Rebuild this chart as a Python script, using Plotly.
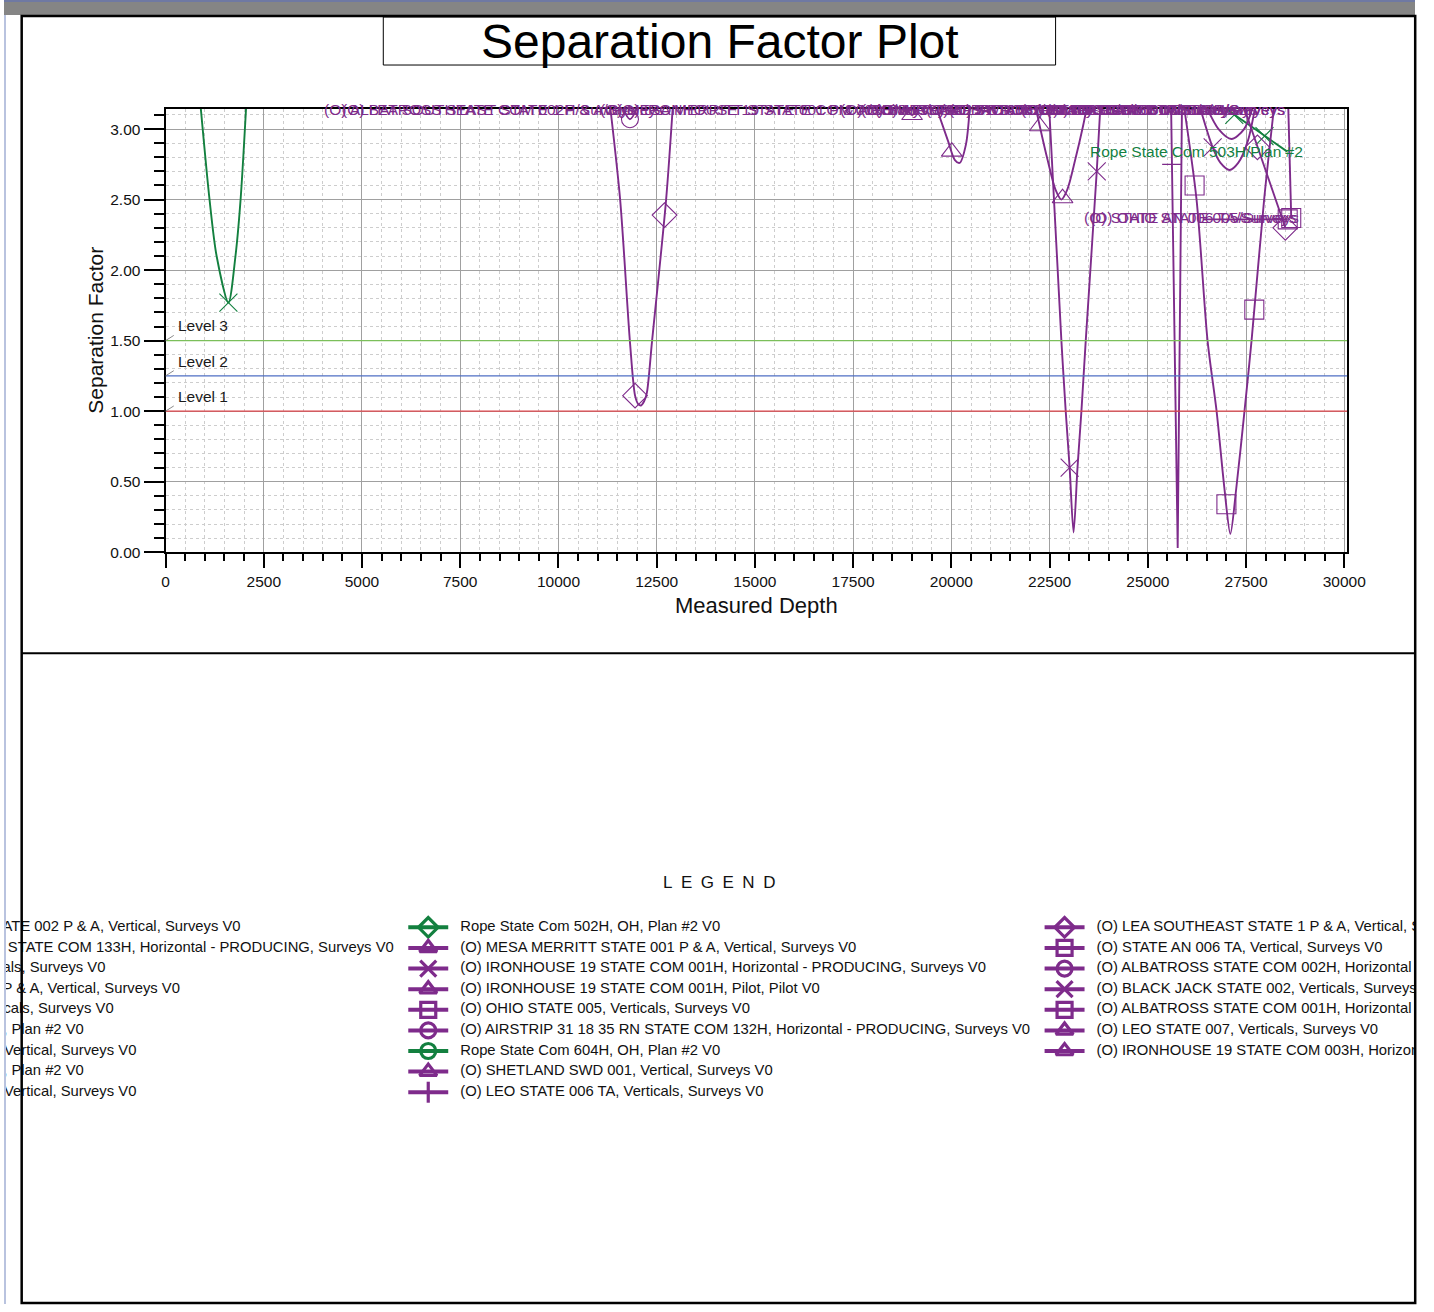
import plotly.graph_objects as go

W, H = 1434, 1312
PURPLE = "#7e2b8b"
GREEN = "#13803f"
FONT = "Liberation Sans, Arial, sans-serif"

# ---------------- threshold levels ----------------
level_names = ["Level 1", "Level 2", "Level 3"]
level_values = [1.00, 1.25, 1.50]
level_colors = ["#e0474c", "#4f6fc4", "#7bbf5a"]

# ---------------- separation factor vs measured depth ----------------
rope503_md = [880, 1120, 1300, 1600, 1780, 1910, 2060, None, 26700, 28550]
rope503_sf = [3.20, 2.50, 2.10, 1.77, 2.10, 2.50, 3.20, None, 3.20, 2.84]
rope503_mk_md = [1600, 27200, 27970]
rope503_mk_sf = [1.77, 3.10, 2.95]

lea1_md = [11300, 11570, 11820, 11950, 12030, 12100, 12180, 12250, 12380, 12740, 12920, None, 27390, 28500]
lea1_sf = [3.20, 2.50, 1.49, 1.11, 1.05, 1.04, 1.07, 1.13, 1.49, 2.50, 3.20, None, 3.20, 2.30]
lea1_mk_md = [11950, 12700, 27790, 28500]
lea1_mk_sf = [1.11, 2.39, 2.87, 2.30]

airstrip_md = [11560, 11820, 12080]
airstrip_sf = [3.20, 3.07, 3.20]
airstrip_mk_md = [11820]
airstrip_mk_sf = [3.07]

shetland_md = [18750, 19000, 19250]
shetland_sf = [3.20, 3.10, 3.20]
shetland_mk_md = [19000]
shetland_mk_sf = [3.10]

mesa_md = [19560, 19910, 20090, 20210, 20370, 20480]
mesa_sf = [3.20, 2.92, 2.78, 2.76, 2.89, 3.20]
mesa_mk_md = [20010]
mesa_mk_sf = [2.84]

pilot_md = [22110, 22250, 22450, 22650, 22800, 22950, 23150, 23350, 23480]
pilot_sf = [3.20, 3.02, 2.78, 2.57, 2.50, 2.57, 2.78, 3.02, 3.20]
pilot_mk_md = [22250, 22830]
pilot_mk_sf = [3.02, 2.51]

ih001_md = [22480, 22800, 22910, 23010, 23110, 23210, 23310, 23420, 23700, 23800]
ih001_sf = [3.20, 1.50, 1.00, 0.60, 0.14, 0.60, 1.00, 1.50, 2.70, 3.20]
ih001_mk_md = [23010, 23700]
ih001_mk_sf = [0.60, 2.70]

leo006_md = [25590, 25760, 25870]
leo006_sf = [3.20, 0.03, 3.20]
leo006_mk_md = [25614]
leo006_mk_sf = [2.75]

ohio_md = [25900, 26240, 26520, 26750, 26950, 27100, 27250, 27460, 27640, 27960, 28230, None, 28570, 28650]
ohio_sf = [3.20, 2.50, 1.50, 1.00, 0.45, 0.13, 0.45, 1.00, 1.50, 2.50, 3.20, None, 3.20, 2.37]
ohio_mk_md = [26190, 27000, 27710, 28650]
ohio_mk_sf = [2.60, 0.34, 1.72, 2.37]

statean_md = [26400, 28560]
statean_sf = [2.36, 2.36]
statean_mk_md = [28560]
statean_mk_sf = [2.36]

blackjack_md = [26280, 26650, 26850, 27080, 27300, 27550, 27760]
blackjack_sf = [3.20, 2.87, 2.76, 2.71, 2.76, 2.92, 3.20]
blackjack_mk_md = [26650]
blackjack_mk_sf = [2.87]

alb002_md = [26420, 26800, 27130, 27450, 27720]
alb002_sf = [3.20, 3.00, 2.93, 3.00, 3.20]

# ---------------- legend entries ----------------
legend1_names = [
    "(O) MESA MERRITT 19 STATE 002 P & A, Vertical, Surveys V0",
    "(O) AIRSTRIP 31 18 35 RN STATE COM 133H, Horizontal - PRODUCING, Surveys V0",
    "(O) LEO STATE 004, Verticals, Surveys V0",
    "(O) SHETLAND STATE 01 P & A, Vertical, Surveys V0",
    "(O) OHIO STATE 004, Verticals, Surveys V0",
    "Rope State Com 503H, OH, Plan #2 V0",
    "(O) SHETLAND SWD 002, Vertical, Surveys V0",
    "Rope State Com 603H, OH, Plan #2 V0",
    "(O) SHETLAND SWD 003, Vertical, Surveys V0",
]
legend1_symbols = ["triangle-up", "circle", "triangle-up", "diamond", "square", "x-thin", "triangle-up", "circle", "triangle-up"]
legend1_colors = [PURPLE, PURPLE, PURPLE, PURPLE, PURPLE, GREEN, PURPLE, GREEN, PURPLE]

legend2_names = [
    "Rope State Com 502H, OH, Plan #2 V0",
    "(O) MESA MERRITT STATE 001 P & A, Vertical, Surveys V0",
    "(O) IRONHOUSE 19 STATE COM 001H, Horizontal - PRODUCING, Surveys V0",
    "(O) IRONHOUSE 19 STATE COM 001H, Pilot, Pilot V0",
    "(O) OHIO STATE 005, Verticals, Surveys V0",
    "(O) AIRSTRIP 31 18 35 RN STATE COM 132H, Horizontal - PRODUCING, Surveys V0",
    "Rope State Com 604H, OH, Plan #2 V0",
    "(O) SHETLAND SWD 001, Vertical, Surveys V0",
    "(O) LEO STATE 006 TA, Verticals, Surveys V0",
]
legend2_symbols = ["diamond", "triangle-up", "x-thin", "triangle-up", "square", "circle", "circle", "triangle-up", "line-ns"]
legend2_colors = [GREEN, PURPLE, PURPLE, PURPLE, PURPLE, PURPLE, GREEN, PURPLE, PURPLE]

legend3_names = [
    "(O) LEA SOUTHEAST STATE 1 P & A, Vertical, Surveys V0",
    "(O) STATE AN 006 TA, Vertical, Surveys V0",
    "(O) ALBATROSS STATE COM 002H, Horizontal - PRODUCING, Surveys V0",
    "(O) BLACK JACK STATE 002, Verticals, Surveys V0",
    "(O) ALBATROSS STATE COM 001H, Horizontal - PRODUCING, Surveys V0",
    "(O) LEO STATE 007, Verticals, Surveys V0",
    "(O) IRONHOUSE 19 STATE COM 003H, Horizontal - PRODUCING, Surveys V0",
]
legend3_symbols = ["diamond", "square", "circle", "x-thin", "square", "triangle-up", "triangle-up"]
legend3_colors = [PURPLE] * 7

# well labels running along the top edge of the plot: (text, depth, anchor)
top_labels = [
    ("(O) ALBATROSS STATE COM 002H/Surveys", 3990, "left"),
    ("(O) LEA SOUTHEAST STATE 1 P & A/Surveys", 4450, "left"),
    ("(O) MESA MERRITT STATE 001 P & A/Surveys", 11010, "left"),
    ("(O) IRONHOUSE 19 STATE COM 001H/Surveys", 11450, "left"),
    ("(O) IRONHOUSE 19 STATE COM 001H/Pilot", 17110, "left"),
    ("(O) SHETLAND SWD 001/Surveys", 17650, "left"),
    ("(O) AIRSTRIP 31 18 35 RN STATE COM 132H/Surveys", 18000, "left"),
    ("(O) ALBATROSS STATE COM 001H/Surveys", 19300, "left"),
    ("(O) IRONHOUSE 19 STATE COM 003H/Surveys", 19900, "left"),
    ("(O) LEO STATE 007/Surveys", 22100, "left"),
    ("(O) LEO STATE 006 TA/Surveys", 22350, "left"),
    ("(O) BLACK JACK STATE 002/Surveys", 28530, "right"),
]

Y_TOP = 3.142
X_END = 30076

# sheet coordinates (px from top-left of the sheet) -> paper fractions
PAGE_X0, PAGE_W, PAGE_H = 3.3, 1412.5, 1303.5


def fx(x):
    return (x - PAGE_X0) / PAGE_W


def fy(y):
    return 1 - y / PAGE_H


fig = go.Figure()


def add_series(md, sf, color, mk_md=None, mk_sf=None, symbol="circle", size=17, shape="spline"):
    fig.add_trace(go.Scatter(x=md, y=sf, mode="lines", connectgaps=False,
                             line=dict(color=color, width=1.9, shape=shape, smoothing=0.8),
                             hoverinfo="skip"))
    if mk_md:
        fig.add_trace(go.Scatter(x=mk_md, y=mk_sf, mode="markers",
                                 marker=dict(symbol=symbol + "-open", size=size, color=color,
                                             line=dict(color=color, width=1.1)),
                                 hoverinfo="skip"))


add_series(rope503_md, rope503_sf, GREEN, rope503_mk_md, rope503_mk_sf, "x-thin", 18)
add_series(lea1_md, lea1_sf, PURPLE, lea1_mk_md, lea1_mk_sf, "diamond", 19)
add_series(airstrip_md, airstrip_sf, PURPLE, airstrip_mk_md, airstrip_mk_sf, "circle", 17)
add_series(shetland_md, shetland_sf, PURPLE, shetland_mk_md, shetland_mk_sf, "triangle-up", 18)
add_series(mesa_md, mesa_sf, PURPLE, mesa_mk_md, mesa_mk_sf, "triangle-up", 18)
add_series(pilot_md, pilot_sf, PURPLE, pilot_mk_md, pilot_mk_sf, "triangle-up", 18)
add_series(ih001_md, ih001_sf, PURPLE, ih001_mk_md, ih001_mk_sf, "x-thin", 18)
add_series(leo006_md, leo006_sf, PURPLE, leo006_mk_md, leo006_mk_sf, "line-ew", 14, shape="linear")
add_series(ohio_md, ohio_sf, PURPLE, ohio_mk_md, ohio_mk_sf, "square", 19)
add_series(statean_md, statean_sf, PURPLE, statean_mk_md, statean_mk_sf, "square", 19)
add_series(blackjack_md, blackjack_sf, PURPLE, blackjack_mk_md, blackjack_mk_sf, "x-thin", 18)
add_series(alb002_md, alb002_sf, PURPLE)

shapes = []
annotations = []

# threshold lines with their labels
for name, val, col in zip(level_names, level_values, level_colors):
    shapes.append(dict(type="line", xref="x", yref="y", x0=0, x1=X_END, y0=val, y1=val,
                       line=dict(color=col, width=1.4), layer="above"))
    shapes.append(dict(type="line", xref="x", yref="y", x0=0, x1=210, y0=val, y1=val + 0.037,
                       line=dict(color="#8a8a8a", width=1), layer="above"))
    annotations.append(dict(x=254, y=val + 0.105, xref="x", yref="y", text=name, showarrow=False,
                            xanchor="left", yanchor="middle", font=dict(size=15.5, color="#1a1a1a")))

# well name labels
for text, md, anchor in top_labels:
    annotations.append(dict(x=md, y=Y_TOP, xref="x", yref="y", text=text, showarrow=False,
                            xanchor=anchor, yanchor="middle", font=dict(size=15.5, color=PURPLE)))
annotations.append(dict(x=28990, y=2.84, xref="x", yref="y", text="Rope State Com 503H/Plan #2",
                        showarrow=False, xanchor="right", yanchor="middle",
                        font=dict(size=15.5, color=GREEN)))
annotations.append(dict(x=28910, y=2.375, xref="x", yref="y", text="(O) OHIO STATE 005/Surveys",
                        showarrow=False, xanchor="right", yanchor="middle",
                        font=dict(size=15.5, color=PURPLE)))
annotations.append(dict(x=28860, y=2.375, xref="x", yref="y", text="(O) STATE AN 006 TA/Surveys",
                        showarrow=False, xanchor="right", yanchor="middle",
                        font=dict(size=15.5, color=PURPLE)))

# axis titles and chart title
annotations.append(dict(x=fx(757), y=fy(605), xref="paper", yref="paper", text="Measured Depth",
                        showarrow=False, xanchor="center", yanchor="middle",
                        font=dict(size=22, color="#111")))
annotations.append(dict(x=fx(95), y=fy(330), xref="paper", yref="paper", text="Separation Factor",
                        showarrow=False, textangle=-90, xanchor="center", yanchor="middle",
                        font=dict(size=21, color="#111")))
annotations.append(dict(x=fx(720), y=fy(41), xref="paper", yref="paper", text="Separation Factor Plot",
                        showarrow=False, xanchor="center", yanchor="middle",
                        font=dict(size=48, color="#000")))
annotations.append(dict(x=fx(719), y=fy(882), xref="paper", yref="paper",
                        text="L\u2002E\u2002G\u2002E\u2002N\u2002D",
                        showarrow=False, xanchor="center", yanchor="middle",
                        font=dict(size=17, color="#111")))

# legend block: line + symbol + text per entry, three columns (drawn on a sheet-sized
# overlay axis so entries running past the sheet edge are clipped)
ROW0, ROW_STEP = 927, 20.6


def add_legend_column(names, symbols, colors, sym_x):
    rows = [ROW0 + i * ROW_STEP for i in range(len(names))]
    for yy, sym, col in zip(rows, symbols, colors):
        fig.add_trace(go.Scatter(x=[sym_x, sym_x + 40], y=[yy, yy], xaxis="x2", yaxis="y2",
                                 mode="lines", line=dict(color=col, width=4), hoverinfo="skip"))
        fig.add_trace(go.Scatter(x=[sym_x + 20], y=[yy], xaxis="x2", yaxis="y2", mode="markers",
                                 marker=dict(symbol=sym + "-open", size=15 if sym != "x-thin" else 16,
                                             color=col, line=dict(color=col, width=3.2)),
                                 hoverinfo="skip"))
    fig.add_trace(go.Scatter(x=[sym_x + 52] * len(names), y=rows, xaxis="x2", yaxis="y2",
                             mode="text", text=names, textposition="middle right",
                             textfont=dict(size=14.8, color="#111", family=FONT), hoverinfo="skip"))


add_legend_column(legend1_names, legend1_symbols, legend1_colors, 408 - 637)
add_legend_column(legend2_names, legend2_symbols, legend2_colors, 408)
add_legend_column(legend3_names, legend3_symbols, legend3_colors, 1045)

# sheet decoration: header strip, outer frame, divider, title box
shapes += [
    dict(type="rect", xref="paper", yref="paper", x0=0, x1=1, y0=fy(15), y1=1,
         fillcolor="#858585", line=dict(width=0), layer="above"),
    dict(type="rect", xref="paper", yref="paper", x0=0, x1=1, y0=fy(2), y1=1,
         fillcolor="#6f79a3", line=dict(width=0), layer="above"),
    dict(type="rect", xref="paper", yref="paper", x0=0, x1=2 / PAGE_W, y0=0, y1=fy(15),
         fillcolor="#b9c3df", line=dict(width=0), layer="above"),
    dict(type="rect", xref="paper", yref="paper", x0=fx(21), x1=fx(1416), y0=fy(1302.5), y1=fy(16),
         line=dict(color="black", width=2.5), layer="above"),
    dict(type="line", xref="paper", yref="paper", x0=fx(21), x1=fx(1416), y0=fy(653), y1=fy(653),
         line=dict(color="black", width=2), layer="above"),
    dict(type="rect", xref="paper", yref="paper", x0=fx(383), x1=fx(1056), y0=fy(65), y1=fy(17),
         line=dict(color="black", width=1), layer="above"),
]

fig.update_layout(
    width=W, height=H, autosize=False,
    margin=dict(l=0, r=0, t=0, b=0),
    paper_bgcolor="white", plot_bgcolor="rgba(0,0,0,0)",
    showlegend=False,
    font=dict(family=FONT, color="#111"),
    shapes=shapes, annotations=annotations,
    xaxis=dict(
        domain=[fx(165), fx(1348)], range=[0, X_END],
        tickmode="linear", tick0=0, dtick=2500, tickformat="d",
        showgrid=True, gridcolor="#a0a0a0", gridwidth=1, zeroline=False,
        showline=True, linecolor="black", linewidth=2, mirror=True,
        ticks="outside", ticklen=14, tickwidth=2, tickcolor="black",
        tickfont=dict(size=15.5, color="#111"),
        minor=dict(dtick=500, tick0=0, ticks="outside", ticklen=7, tickwidth=1.5, tickcolor="black",
                   showgrid=True, gridcolor="#cdcdcd", gridwidth=1, griddash="3px,3px"),
    ),
    yaxis=dict(
        domain=[fy(552), fy(109)], range=[0, Y_TOP],
        tickmode="linear", tick0=0, dtick=0.5, tickformat=".2f",
        showgrid=True, gridcolor="#a0a0a0", gridwidth=1, zeroline=False,
        showline=True, linecolor="black", linewidth=2, mirror=True,
        ticks="outside", ticklen=20, tickwidth=2, tickcolor="black",
        tickfont=dict(size=15.5, color="#111"),
        minor=dict(dtick=0.1, tick0=0, ticks="outside", ticklen=10, tickwidth=1.5, tickcolor="black",
                   showgrid=True, gridcolor="#cdcdcd", gridwidth=1, griddash="3px,3px"),
    ),
    xaxis2=dict(domain=[0, 1], range=[PAGE_X0, PAGE_X0 + PAGE_W], visible=False, anchor="y2"),
    yaxis2=dict(domain=[0, 1], range=[PAGE_H, 0], visible=False, anchor="x2"),
)

fig.write_html("out.html", config={"responsive": False})
